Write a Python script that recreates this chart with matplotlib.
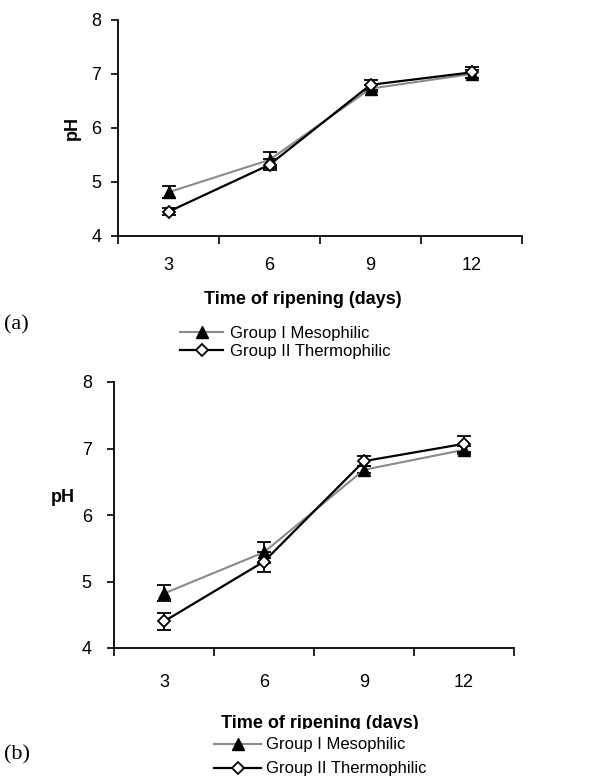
import matplotlib
matplotlib.use("Agg")
import matplotlib.pyplot as plt
from matplotlib.lines import Line2D

plt.rcParams['font.family'] = ['Liberation Sans', 'DejaVu Sans']

days = ['3', '6', '9', '12']
yticks = [4, 5, 6, 7, 8]

# Panel (a)
a_meso = [4.81, 5.41, 6.73, 7.00]
a_meso_err = [0.11, 0.15, 0.07, 0.08]
a_thermo = [4.45, 5.32, 6.80, 7.03]
a_thermo_err = [0.07, 0.10, 0.09, 0.10]

# Panel (b)
b_meso = [4.82, 5.44, 6.68, 6.98]
b_meso_err = [0.12, 0.16, 0.05, 0.06]
b_thermo = [4.40, 5.30, 6.81, 7.07]
b_thermo_err = [0.13, 0.15, 0.07, 0.12]

labels = ['Group I Mesophilic', 'Group II Thermophilic']

W, H = 591, 782
fig = plt.figure(figsize=(W/100, H/100), dpi=100)

def fx(px):
    return px / W

def fy(py):
    return 1 - py / H

def make_panel(rect, meso, meso_err, thermo, thermo_err, xpad, ypad):
    ax = fig.add_axes(rect)
    x = list(range(len(days)))
    ax.errorbar(x, meso, yerr=meso_err, color='#8a8a8a', lw=1.5,
                marker='^', ms=9, mfc='black', mec='black',
                ecolor='black', elinewidth=1.3, capsize=5, capthick=1.3, zorder=3)
    ax.errorbar(x, thermo, yerr=thermo_err, color='black', lw=1.6,
                marker='D', ms=6.5, mfc='white', mec='black', mew=1.3,
                ecolor='black', elinewidth=1.3, capsize=5, capthick=1.3, zorder=4)
    ax.set_xlim(-0.5, len(days) - 0.5)
    ax.set_ylim(4, 8)
    ax.set_yticks(yticks)
    ax.set_yticklabels([str(v) for v in yticks], fontsize=13)
    ax.set_xticks([i - 0.5 for i in range(len(days) + 1)])
    ax.set_xticklabels([])
    ax.set_xticks(x, minor=True)
    ax.set_xticklabels(days, minor=True, fontsize=13)
    ax.tick_params(axis='x', which='major', length=6, width=1.2, direction='out')
    ax.tick_params(axis='x', which='minor', length=0, pad=xpad)
    ax.tick_params(axis='y', length=5, width=1.2, direction='out', pad=ypad)
    for s in ['top', 'right']:
        ax.spines[s].set_visible(False)
    for s in ['left', 'bottom']:
        ax.spines[s].set_linewidth(1.3)
    ax.patch.set_alpha(0)
    return ax

ax_a = make_panel([fx(118), fy(236), fx(522) - fx(118), fy(20) - fy(236)],
                  a_meso, a_meso_err, a_thermo, a_thermo_err, 15, 7)
ax_b = make_panel([fx(114), fy(648), fx(514) - fx(114), fy(382) - fy(648)],
                  b_meso, b_meso_err, b_thermo, b_thermo_err, 19, 11)

# Axis labels
fig.text(fx(72), fy(128), 'pH', rotation=90, fontsize=13, fontweight='bold',
         ha='center', va='center')
fig.text(fx(63), fy(497), 'pH', fontsize=13, fontweight='bold',
         ha='center', va='center')
fig.text(fx(303), fy(300), 'Time of ripening (days)', fontsize=13,
         fontweight='bold', ha='center', va='center')
fig.text(fx(320), fy(723), 'Time of ripening (days)', fontsize=13,
         fontweight='bold', ha='center', va='center', zorder=1)

# Panel letters
fig.text(fx(4), fy(325), '(a)', fontsize=16, family=['Liberation Serif', 'DejaVu Serif'],
         ha='left', va='center')
fig.text(fx(4), fy(755), '(b)', fontsize=16, family=['Liberation Serif', 'DejaVu Serif'],
         ha='left', va='center')

def handles():
    h1 = Line2D([], [], color='#8a8a8a', lw=1.5, marker='^', ms=9,
                mfc='black', mec='black')
    h2 = Line2D([], [], color='black', lw=1.6, marker='D', ms=6.5,
                mfc='white', mec='black', mew=1.3)
    return [h1, h2]

narrow = ['Liberation Sans Narrow', 'Liberation Sans', 'DejaVu Sans']

leg_a = fig.legend(handles(), labels, loc='upper left',
                   bbox_to_anchor=(fx(180), fy(326)), bbox_transform=fig.transFigure,
                   frameon=False, handlelength=2.6, handletextpad=0.4,
                   labelspacing=0.2, borderpad=0, borderaxespad=0,
                   prop={'family': narrow, 'size': 12})
leg_b = fig.legend(handles(), labels, loc='upper left',
                   bbox_to_anchor=(fx(206), fy(729)), bbox_transform=fig.transFigure,
                   frameon=True, facecolor='white', edgecolor='white', framealpha=1,
                   handlelength=2.8, handletextpad=0.3,
                   labelspacing=0.55, borderpad=0.5, borderaxespad=0,
                   prop={'family': narrow, 'size': 12})
leg_b.get_frame().set_linewidth(0)
leg_b.set_zorder(5)

fig.savefig('out.png', dpi=100)
